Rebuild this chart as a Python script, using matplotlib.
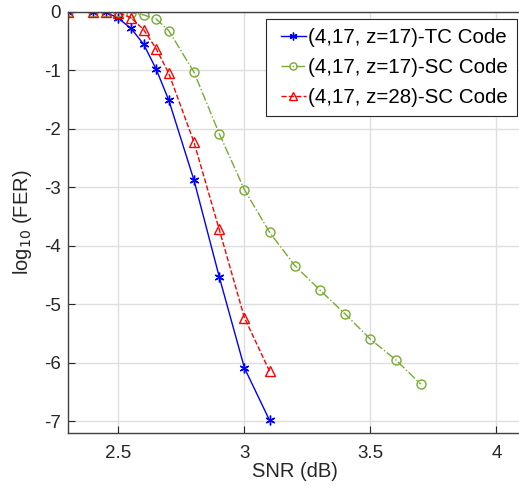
import matplotlib
matplotlib.use("Agg")
import matplotlib.pyplot as plt
from matplotlib.ticker import FuncFormatter
from matplotlib.legend_handler import HandlerLine2D

plt.rcParams['font.family'] = ['Liberation Sans', 'DejaVu Sans']

snr_tc = [2.3, 2.4, 2.45, 2.5, 2.55, 2.6, 2.65, 2.7, 2.8, 2.9, 3.0, 3.1]
fer_tc = [0, 0, 0, -0.11, -0.28, -0.55, -0.98, -1.51, -2.88, -4.53, -6.09, -6.99]

snr_sc17 = [2.3, 2.4, 2.45, 2.5, 2.55, 2.6, 2.65, 2.7, 2.8, 2.9, 3.0, 3.1, 3.2, 3.3, 3.4, 3.5, 3.6, 3.7]
fer_sc17 = [0, 0, 0, 0, -0.01, -0.05, -0.12, -0.32, -1.03, -2.08, -3.04, -3.77, -4.34, -4.76, -5.17, -5.6, -5.95, -6.37]

snr_sc28 = [2.3, 2.4, 2.45, 2.5, 2.55, 2.6, 2.65, 2.7, 2.8, 2.9, 3.0, 3.1]
fer_sc28 = [0, 0, 0, -0.01, -0.1, -0.3, -0.63, -1.05, -2.23, -3.72, -5.23, -6.15]

labels = ["(4,17, z=17)-TC Code", "(4,17, z=17)-SC Code", "(4,17, z=28)-SC Code"]
xticks = [2.5, 3, 3.5, 4]
yticks = [0, -1, -2, -3, -4, -5, -6, -7]


class ShortHandler(HandlerLine2D):
    """Draw the legend sample line shorter, right-aligned in the handle box."""
    def create_artists(self, legend, orig_handle, xdescent, ydescent, width, height, fontsize, trans):
        arts = super().create_artists(legend, orig_handle, xdescent, ydescent, width, height, fontsize, trans)
        L = 17.5  # points
        x1 = width - xdescent
        x0 = x1 - L
        xm = 0.5 * (x0 + x1)
        for a in arts:
            n = len(a.get_xdata())
            if n == 3:
                a.set_xdata([x0, xm, x1])
            elif n == 2:
                a.set_xdata([x0, x1])
            else:
                a.set_xdata([xm] * n)
        return arts


fig = plt.figure(figsize=(5.19, 4.92), dpi=100)
ax = fig.add_axes([68/519, 59.3/492, (521.6-68)/519, (432.7-12)/492])

ax.plot(snr_tc, fer_tc, '-', color='#0000FF', lw=1.0, marker=(6, 2, 0), ms=7, mfc='none', mew=1.0, label=labels[0])
ax.plot(snr_sc17, fer_sc17, '-.', color='#77AC30', lw=1.0, marker='o', ms=6.5, mfc='none', mew=1.0, label=labels[1])
ax.plot(snr_sc28, fer_sc28, '--', color='#FF0000', lw=1.0, marker='^', ms=7, mfc='none', mew=1.0, label=labels[2])

ax.set_xlim(2.3, 4.1)
ax.set_ylim(-7.2, 0)
ax.set_xticks(xticks)
ax.set_yticks(yticks)
ax.xaxis.set_major_formatter(FuncFormatter(lambda v, p: ('%g' % v)))
ax.yaxis.set_major_formatter(FuncFormatter(lambda v, p: ('%g' % v).replace('\u2212', '-')))
ax.grid(True, color='#DFDFDF', lw=1.0)
ax.set_axisbelow(True)
for s in ax.spines.values():
    s.set_color('#404040')
    s.set_linewidth(1.0)
ax.tick_params(direction='in', length=5, colors='#262626', labelsize=13.5, top=False, right=False)
ax.tick_params(axis='x', pad=9)
ax.tick_params(axis='y', pad=5)
ax.set_xlabel('SNR (dB)', fontsize=14.5, color='#262626', labelpad=0)
ax.set_ylabel('log$_{10}$ (FER)', fontsize=14.5, color='#262626', labelpad=7)

leg = ax.legend(loc='upper right', bbox_to_anchor=(517/519, 1-18.7/492), bbox_transform=fig.transFigure,
                fontsize=14.8, handlelength=1.45, handletextpad=0.12, borderpad=0.45, labelspacing=0.53,
                borderaxespad=0, markerscale=0.8,
                handler_map={matplotlib.lines.Line2D: ShortHandler()},
                fancybox=False, edgecolor='#262626', framealpha=1)
leg.get_frame().set_linewidth(0.8)

fig.savefig('out.png', dpi=100)
